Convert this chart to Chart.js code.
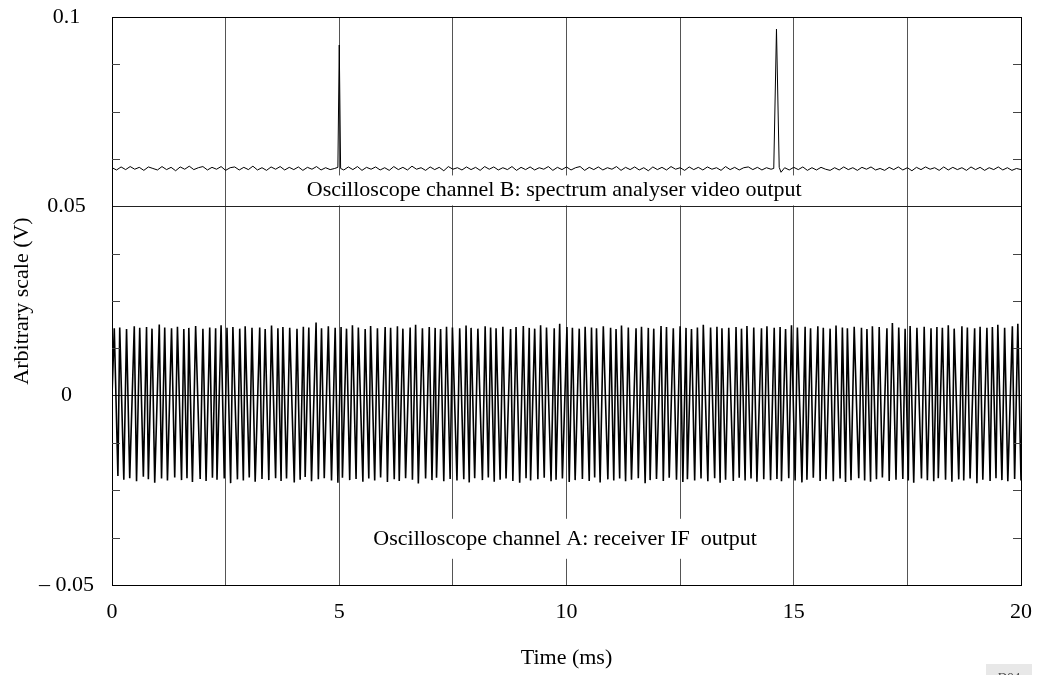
<!DOCTYPE html>
<html>
<head>
<meta charset="utf-8">
<script src="https://cdn.jsdelivr.net/npm/chart.js@4.4.1/dist/chart.umd.min.js"></script>
<style>
  html, body { margin: 0; padding: 0; background: #fff; }
  #wrap { width: 1038px; height: 675px; }
</style>
</head>
<body>
<div id="wrap"><canvas id="scope" width="1038" height="675"></canvas></div>
<script>
// x axis (ms) and y axis (V)
const xMin = 0, xMax = 20, xStep = 2.5, xLabelEvery = 5;
const yMin = -0.05, yMax = 0.1, yStep = 0.0125, yLabelEvery = 0.05;

// channel A: receiver IF output (peak times, ms / peak values, V)
const tA = [0,
  0.05,0.13,0.17,0.26,0.32,0.39,0.49,0.54,0.61,0.69,
  0.76,0.80,0.88,0.94,1.04,1.09,1.16,1.22,1.31,1.38,
  1.44,1.53,1.58,1.65,1.69,1.77,1.84,1.94,2.00,2.07,
  2.15,2.21,2.28,2.31,2.40,2.47,2.53,2.61,2.66,2.76,
  2.81,2.89,2.93,3.02,3.08,3.15,3.25,3.30,3.37,3.45,
  3.51,3.60,3.65,3.72,3.76,3.84,3.91,4.01,4.07,4.14,
  4.21,4.25,4.33,4.39,4.49,4.54,4.61,4.67,4.76,4.83,
  4.91,4.97,5.04,5.07,5.16,5.23,5.29,5.37,5.42,5.52,
  5.57,5.65,5.69,5.78,5.84,5.91,6.01,6.06,6.13,6.21,
  6.28,6.32,6.40,6.46,6.56,6.61,6.68,6.74,6.83,6.90,
  6.98,7.04,7.11,7.14,7.23,7.30,7.36,7.44,7.49,7.59,
  7.65,7.74,7.79,7.86,7.90,7.98,8.05,8.15,8.21,8.28,
  8.33,8.41,8.45,8.54,8.60,8.67,8.77,8.82,8.89,8.97,
  9.05,9.11,9.18,9.21,9.30,9.37,9.43,9.51,9.56,9.66,
  9.73,9.77,9.85,9.91,10.01,10.06,10.13,10.19,10.28,10.35,
  10.41,10.50,10.55,10.62,10.66,10.74,10.81,10.91,10.97,11.04,
  11.09,11.17,11.21,11.30,11.36,11.43,11.53,11.58,11.65,11.73,
  11.80,11.84,11.92,11.98,12.08,12.13,12.20,12.26,12.35,12.42,
  12.50,12.56,12.63,12.66,12.75,12.82,12.88,12.96,13.01,13.11,
  13.17,13.26,13.31,13.38,13.42,13.50,13.57,13.67,13.73,13.80,
  13.85,13.93,13.97,14.06,14.12,14.19,14.29,14.34,14.41,14.49,
  14.57,14.63,14.70,14.73,14.82,14.89,14.95,15.03,15.08,15.18,
  15.25,15.29,15.37,15.43,15.53,15.58,15.65,15.71,15.80,15.87,
  15.93,16.02,16.07,16.14,16.18,16.26,16.33,16.43,16.49,16.56,
  16.61,16.69,16.73,16.82,16.88,16.95,17.05,17.10,17.17,17.25,
  17.31,17.40,17.45,17.52,17.56,17.64,17.71,17.81,17.87,17.94,
  18.02,18.08,18.15,18.18,18.27,18.34,18.40,18.48,18.53,18.63,
  18.70,18.74,18.82,18.88,18.98,19.03,19.10,19.16,19.25,19.32,
  19.37,19.45,19.49,19.58,19.64,19.71,19.81,19.86,19.93,20.00
];
const vA = [0,
  0.0178,-0.0212,0.0180,-0.0222,0.0176,-0.0218,0.0183,-0.0226,0.0179,-0.0214,
  0.0181,-0.0221,0.0177,-0.0230,0.0188,-0.0219,0.0180,-0.0224,0.0178,-0.0216,
  0.0182,-0.0223,0.0176,-0.0218,0.0179,-0.0228,0.0184,-0.0220,0.0177,-0.0225,
  0.0180,-0.0217,0.0178,-0.0222,0.0186,-0.0219,0.0179,-0.0231,0.0181,-0.0221,
  0.0177,-0.0224,0.0183,-0.0216,0.0179,-0.0227,0.0180,-0.0220,0.0176,-0.0223,
  0.0185,-0.0218,0.0178,-0.0225,0.0181,-0.0219,0.0179,-0.0229,0.0177,-0.0222,
  0.0182,-0.0215,0.0180,-0.0226,0.0193,-0.0221,0.0178,-0.0218,0.0183,-0.0224,
  0.0179,-0.0230,0.0181,-0.0217,0.0177,-0.0223,0.0186,-0.0220,0.0180,-0.0227,
  0.0176,-0.0219,0.0184,-0.0224,0.0178,-0.0216,0.0181,-0.0228,0.0179,-0.0221,
  0.0183,-0.0225,0.0177,-0.0218,0.0180,-0.0222,0.0187,-0.0232,0.0178,-0.0219,
  0.0181,-0.0223,0.0179,-0.0217,0.0176,-0.0226,0.0182,-0.0220,0.0180,-0.0224,
  0.0178,-0.0221,0.0185,-0.0229,0.0179,-0.0218,0.0177,-0.0223,0.0183,-0.0216,
  0.0180,-0.0227,0.0178,-0.0222,0.0182,-0.0219,0.0176,-0.0225,0.0181,-0.0230,
  0.0184,-0.0218,0.0179,-0.0224,0.0177,-0.0221,0.0186,-0.0217,0.0180,-0.0226,
  0.0178,-0.0222,0.0190,-0.0219,0.0181,-0.0228,0.0179,-0.0223,0.0177,-0.0220,
  0.0182,-0.0225,0.0180,-0.0216,0.0178,-0.0229,0.0183,-0.0221,0.0179,-0.0224,
  0.0176,-0.0219,0.0185,-0.0226,0.0180,-0.0222,0.0178,-0.0218,0.0182,-0.0231,
  0.0179,-0.0223,0.0177,-0.0220,0.0184,-0.0225,0.0181,-0.0217,0.0178,-0.0222,
  0.0183,-0.0228,0.0179,-0.0221,0.0176,-0.0224,0.0180,-0.0219,0.0187,-0.0226,
  0.0180,-0.0218,0.0182,-0.0230,0.0178,-0.0222,0.0179,-0.0225,0.0181,-0.0217,
  0.0177,-0.0224,0.0184,-0.0219,0.0180,-0.0227,0.0178,-0.0221,0.0183,-0.0223,
  0.0179,-0.0220,0.0181,-0.0226,0.0176,-0.0218,0.0186,-0.0224,0.0180,-0.0229,
  0.0182,-0.0222,0.0178,-0.0217,0.0183,-0.0225,0.0179,-0.0221,0.0177,-0.0226,
  0.0185,-0.0219,0.0180,-0.0228,0.0178,-0.0223,0.0182,-0.0218,0.0179,-0.0224,
  0.0176,-0.0227,0.0183,-0.0221,0.0181,-0.0216,0.0178,-0.0225,0.0192,-0.0222,
  0.0180,-0.0220,0.0177,-0.0224,0.0184,-0.0230,0.0179,-0.0219,0.0182,-0.0223,
  0.0178,-0.0226,0.0181,-0.0218,0.0179,-0.0222,0.0186,-0.0227,0.0177,-0.0221,
  0.0183,-0.0224,0.0180,-0.0219,0.0178,-0.0231,0.0182,-0.0222,0.0179,-0.0225,
  0.0181,-0.0218,0.0187,-0.0223,0.0179,-0.0226,0.0183,-0.0220,0.0190,-0.0224
];

// channel B: spectrum analyser video output (ms / V)
const tB = [
  0,0.1,0.2,0.3,0.4,0.5,0.6,0.7,0.8,0.9,
  1.0,1.1,1.2,1.3,1.4,1.5,1.6,1.7,1.8,1.9,
  2.0,2.1,2.2,2.3,2.4,2.5,2.6,2.7,2.8,2.9,
  3.0,3.1,3.2,3.3,3.4,3.5,3.6,3.7,3.8,3.9,
  4.0,4.1,4.2,4.3,4.4,4.5,4.6,4.7,4.8,4.9,
  4.97,5.0,5.03,
  5.1,5.2,5.3,5.4,5.5,5.6,5.7,5.8,5.9,
  6.0,6.1,6.2,6.3,6.4,6.5,6.6,6.7,6.8,6.9,
  7.0,7.1,7.2,7.3,7.4,7.5,7.6,7.7,7.8,7.9,
  8.0,8.1,8.2,8.3,8.4,8.5,8.6,8.7,8.8,8.9,
  9.0,9.1,9.2,9.3,9.4,9.5,9.6,9.7,9.8,9.9,
  10.0,10.1,10.2,10.3,10.4,10.5,10.6,10.7,10.8,10.9,
  11.0,11.1,11.2,11.3,11.4,11.5,11.6,11.7,11.8,11.9,
  12.0,12.1,12.2,12.3,12.4,12.5,12.6,12.7,12.8,12.9,
  13.0,13.1,13.2,13.3,13.4,13.5,13.6,13.7,13.8,13.9,
  14.0,14.1,14.2,14.3,14.4,14.5,
  14.56,14.62,14.68,14.72,
  14.8,14.9,
  15.0,15.1,15.2,15.3,15.4,15.5,15.6,15.7,15.8,15.9,
  16.0,16.1,16.2,16.3,16.4,16.5,16.6,16.7,16.8,16.9,
  17.0,17.1,17.2,17.3,17.4,17.5,17.6,17.7,17.8,17.9,
  18.0,18.1,18.2,18.3,18.4,18.5,18.6,18.7,18.8,18.9,
  19.0,19.1,19.2,19.3,19.4,19.5,19.6,19.7,19.8,19.9,
  20.0
];
const vB = [
  0.0602,0.0596,0.0604,0.0597,0.0605,0.0598,0.0603,0.0595,0.0604,0.0600,
  0.0596,0.0605,0.0597,0.0603,0.0594,0.0604,0.0598,0.0606,0.0597,0.0602,
  0.0605,0.0596,0.0603,0.0598,0.0605,0.0595,0.0602,0.0604,0.0596,0.0603,
  0.0597,0.0606,0.0596,0.0602,0.0595,0.0604,0.0598,0.0605,0.0596,0.0603,
  0.0597,0.0604,0.0595,0.0603,0.0598,0.0605,0.0596,0.0602,0.0597,0.0600,
  0.0603,0.0926,0.0600,
  0.0596,0.0604,0.0597,0.0605,0.0595,0.0603,0.0598,0.0604,0.0596,
  0.0602,0.0595,0.0605,0.0597,0.0603,0.0596,0.0606,0.0598,0.0602,0.0595,
  0.0604,0.0597,0.0603,0.0594,0.0605,0.0598,0.0602,0.0596,0.0604,0.0597,
  0.0603,0.0595,0.0605,0.0598,0.0604,0.0596,0.0602,0.0597,0.0605,0.0595,
  0.0603,0.0597,0.0604,0.0596,0.0602,0.0598,0.0605,0.0595,0.0603,0.0597,
  0.0604,0.0596,0.0602,0.0605,0.0595,0.0603,0.0597,0.0604,0.0596,0.0602,
  0.0598,0.0605,0.0595,0.0603,0.0597,0.0604,0.0596,0.0602,0.0594,0.0604,
  0.0597,0.0603,0.0596,0.0605,0.0598,0.0602,0.0595,0.0604,0.0597,0.0603,
  0.0596,0.0604,0.0598,0.0602,0.0595,0.0605,0.0597,0.0603,0.0596,0.0602,
  0.0604,0.0597,0.0603,0.0596,0.0602,0.0598,
  0.0600,0.0968,0.0603,0.0590,
  0.0602,0.0596,
  0.0603,0.0597,0.0604,0.0595,0.0602,0.0596,0.0603,0.0598,0.0595,0.0602,
  0.0596,0.0604,0.0597,0.0602,0.0595,0.0603,0.0598,0.0604,0.0596,0.0600,
  0.0595,0.0603,0.0597,0.0604,0.0596,0.0602,0.0594,0.0603,0.0597,0.0604,
  0.0598,0.0602,0.0595,0.0604,0.0596,0.0603,0.0597,0.0602,0.0595,0.0604,
  0.0597,0.0603,0.0595,0.0602,0.0597,0.0604,0.0596,0.0602,0.0595,0.0600,
  0.0597
];

// in-plot captions: text, x (ms), y (V), box height (px)
const captions = [
  { text: "Oscilloscope channel B: spectrum analyser video output", x: 9.73, y: 0.0542, h: 30 },
  { text: "Oscilloscope channel A: receiver IF  output", x: 9.97, y: -0.0378, h: 40 }
];

const serif = "'Liberation Serif', 'Times New Roman', serif";
Chart.defaults.font.family = serif;
Chart.defaults.font.size = 22;
Chart.defaults.color = "#000";

function isMultiple(v, step) {
  const q = v / step;
  return Math.abs(q - Math.round(q)) < 1e-6;
}
function yLabel(v) {
  if (!isMultiple(v, yLabelEvery)) return "";
  if (Math.abs(v) < 1e-9) return "0";
  const s = String(Math.round(Math.abs(v) * 100) / 100);
  return v < 0 ? "\u2013 " + s : s;
}
// fixed axis boxes, no label overflow padding
function fixBox(size) {
  return s => {
    if (s.isHorizontal()) s.height = size; else s.width = size;
    s.paddingTop = s.paddingBottom = s.paddingLeft = s.paddingRight = 0;
  };
}

const innerTicks = {
  id: "innerTicks",
  afterDraw(chart) {
    const { ctx, chartArea: a, scales: { y } } = chart;
    ctx.save();
    ctx.strokeStyle = "#444";
    ctx.lineWidth = 1;
    y.ticks.forEach(t => {
      if (isMultiple(t.value, yLabelEvery)) return;
      const py = Math.round(y.getPixelForValue(t.value)) + 0.5;
      ctx.beginPath();
      ctx.moveTo(a.left, py); ctx.lineTo(a.left + 8, py);
      ctx.moveTo(a.right - 8, py); ctx.lineTo(a.right, py);
      ctx.stroke();
    });
    ctx.restore();
  }
};

const captionPlugin = {
  id: "captions",
  afterDatasetsDraw(chart) {
    const { ctx, scales: { x, y } } = chart;
    ctx.save();
    ctx.font = "22px " + serif;
    ctx.textAlign = "center";
    ctx.textBaseline = "middle";
    captions.forEach(c => {
      const px = x.getPixelForValue(c.x), py = y.getPixelForValue(c.y);
      const w = ctx.measureText(c.text).width + 6;
      ctx.fillStyle = "#fff";
      ctx.fillRect(px - w / 2, py - c.h / 2, w, c.h);
      ctx.fillStyle = "#000";
      ctx.fillText(c.text, px, py);
    });
    ctx.restore();
  },
  afterDraw(chart) {
    const ctx = chart.ctx;
    ctx.save();
    ctx.fillStyle = "#e8e8e8";
    ctx.fillRect(986, 664, 46, 11);
    ctx.fillStyle = "#444";
    ctx.font = "13px " + serif;
    ctx.textAlign = "center";
    ctx.textBaseline = "alphabetic";
    ctx.fillText("D04", 1009, 681);
    ctx.restore();
  }
};

new Chart(document.getElementById("scope"), {
  type: "scatter",
  data: {
    datasets: [
      {
        label: "Channel A",
        data: tA.map((t, i) => ({ x: t, y: vA[i] })),
        showLine: true, borderColor: "#000", borderWidth: 1.6,
        pointRadius: 0, tension: 0
      },
      {
        label: "Channel B",
        data: tB.map((t, i) => ({ x: t, y: vB[i] })),
        showLine: true, borderColor: "#000", borderWidth: 1,
        pointRadius: 0, tension: 0
      }
    ]
  },
  options: {
    responsive: false,
    animation: false,
    layout: { padding: { left: 0, right: 17, top: 17, bottom: 0 } },
    plugins: { legend: { display: false }, tooltip: { enabled: false } },
    scales: {
      x: {
        type: "linear", min: xMin, max: xMax,
        afterFit: fixBox(90),
        ticks: {
          stepSize: xStep, autoSkip: false, maxRotation: 0, padding: 14,
          callback: v => isMultiple(v, xLabelEvery) ? String(v) : ""
        },
        grid: {
          drawTicks: false, lineWidth: 1,
          color: c => (c.tick.value === xMin || c.tick.value === xMax) ? "#000" : "#555"
        },
        border: { display: true, color: "#000", width: 1 },
        title: {
          display: true, text: "Time (ms)",
          font: { size: 22, lineHeight: 1 }, padding: { top: 0, bottom: 6 }
        }
      },
      y: {
        type: "linear", min: yMin, max: yMax,
        afterFit: fixBox(112),
        ticks: {
          stepSize: yStep, autoSkip: false, padding: 18, crossAlign: "center",
          callback: v => yLabel(v)
        },
        grid: {
          drawTicks: false, lineWidth: 1,
          color: c => {
            const v = c.tick.value;
            if (isMultiple(v - yMin, yMax - yMin)) return "#000";
            return isMultiple(v, yLabelEvery) ? "#222" : "rgba(0,0,0,0)";
          }
        },
        border: { display: true, color: "#000", width: 1 },
        title: {
          display: true, text: "Arbitrary scale (V)",
          font: { size: 22, lineHeight: 1 }, padding: { top: 11, bottom: 0 }
        }
      }
    }
  },
  plugins: [innerTicks, captionPlugin]
});
</script>
</body>
</html>
